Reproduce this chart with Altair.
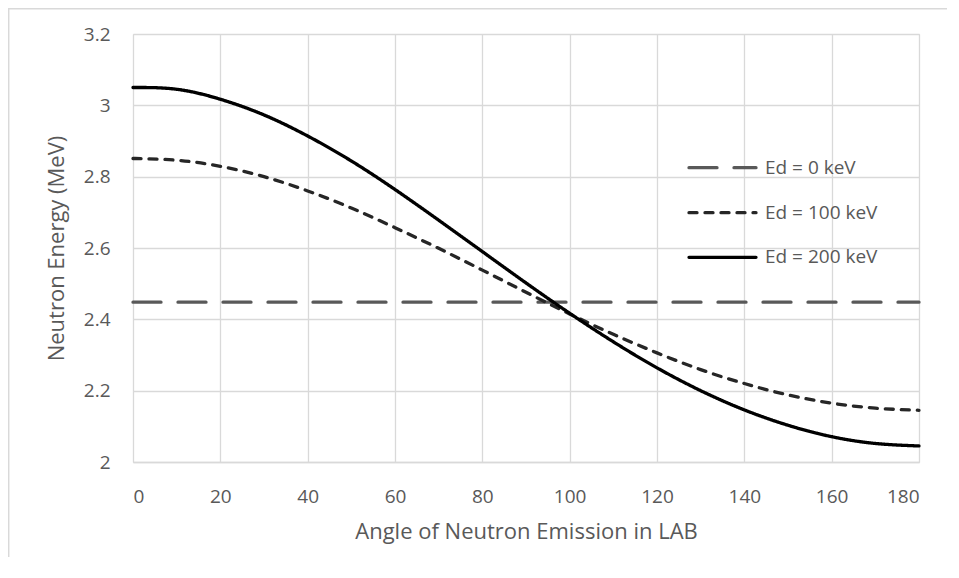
import altair as alt
import pandas as pd

# ---- data ----
angles = [0, 10, 20, 30, 40, 50, 60, 70, 80, 90, 100, 110, 120, 130, 140, 150, 160, 170, 180]
ed0 = [2.448] * 19
ed100 = [2.851, 2.846, 2.829, 2.800, 2.760, 2.712, 2.657, 2.599, 2.538, 2.476,
         2.415, 2.358, 2.306, 2.259, 2.220, 2.188, 2.165, 2.151, 2.145]
ed200 = [3.050, 3.045, 3.017, 2.973, 2.914, 2.844, 2.764, 2.678, 2.590, 2.502,
         2.417, 2.337, 2.264, 2.200, 2.146, 2.103, 2.071, 2.052, 2.045]
series_names = ["Ed = 0 keV", "Ed = 100 keV", "Ed = 200 keV"]
series_colors = ["#595959", "#262626", "#000000"]
series_dashes = [[28, 17], [8, 8], [1, 0]]
x_ticks = [0, 20, 40, 60, 80, 100, 120, 140, 160, 180]
y_ticks = [2.0, 2.2, 2.4, 2.6, 2.8, 3.0, 3.2]

rows = []
for name, vals in zip(series_names, [ed0, ed100, ed200]):
    for a, v in zip(angles, vals):
        rows.append({"angle": a, "energy": v, "series": name})
df = pd.DataFrame(rows)

FONT = "Open Sans"
TXT = "#595959"
GRID = "#d9d9d9"
W, H = 786, 428

x_enc = alt.X("angle:Q",
              scale=alt.Scale(domain=[0, 180], nice=False, zero=False),
              axis=alt.Axis(values=x_ticks, title="Angle of Neutron Emission in LAB",
                            grid=True, gridColor=GRID, gridWidth=1.3,
                            domain=True, domainColor=GRID, domainWidth=1.5,
                            ticks=False, labelPadding=25, labelFontSize=19,
                            labelColor=TXT, labelFont=FONT,
                            titleFont=FONT, titleFontSize=22, titleColor=TXT,
                            titleFontWeight="normal", titlePadding=15))
y_enc = alt.Y("energy:Q",
              scale=alt.Scale(domain=[2.0, 3.2], nice=False, zero=False),
              axis=alt.Axis(values=y_ticks, format="~g", title="Neutron Energy (MeV)",
                            grid=True, gridColor=GRID, gridWidth=1.3,
                            domain=False, ticks=False, labelPadding=23,
                            labelFontSize=19, labelColor=TXT, labelFont=FONT,
                            titleFont=FONT, titleFontSize=22, titleColor=TXT,
                            titleFontWeight="normal", titlePadding=15))

lines = alt.Chart(df).mark_line(strokeWidth=3.3, strokeCap="round", interpolate="natural").encode(
    x=x_enc,
    y=y_enc,
    color=alt.Color("series:N", scale=alt.Scale(domain=series_names, range=series_colors), legend=None),
    strokeDash=alt.StrokeDash("series:N", scale=alt.Scale(domain=series_names, range=series_dashes), legend=None),
    detail="series:N",
)

layers = [lines]

# manual legend (positions are layout)
leg_y = [133.7, 178.7, 223.3]
for name, col, dash, yy in zip(series_names, series_colors, series_dashes, leg_y):
    ldf = pd.DataFrame({"label": [name]})
    layers.append(
        alt.Chart(ldf).mark_rule(color=col, strokeWidth=3.3, strokeCap="round", strokeDash=dash).encode(
            x=alt.value(556), x2=alt.value(623), y=alt.value(yy))
    )
    layers.append(
        alt.Chart(ldf).mark_text(align="left", baseline="middle", font=FONT, fontSize=19, color=TXT).encode(
            x=alt.value(632), y=alt.value(yy), text="label:N")
    )

# chart-area border (top and left edges)
bdf = pd.DataFrame({"k": [0]})
layers.append(alt.Chart(bdf).mark_rule(color=GRID, strokeWidth=1.5).encode(
    x=alt.value(-125), x2=alt.value(830), y=alt.value(-25.3)))
layers.append(alt.Chart(bdf).mark_rule(color=GRID, strokeWidth=1.5).encode(
    x=alt.value(-124.3), y=alt.value(-26), y2=alt.value(540)))

chart = alt.layer(*layers).properties(
    width=W, height=H,
    autosize=alt.AutoSizeParams(type="none"),
    padding={"left": 125, "top": 26, "right": 28, "bottom": 95},
).configure_view(stroke=None).configure(background="white")

chart.save("out.html", embed_options={"renderer": "svg", "actions": False})
